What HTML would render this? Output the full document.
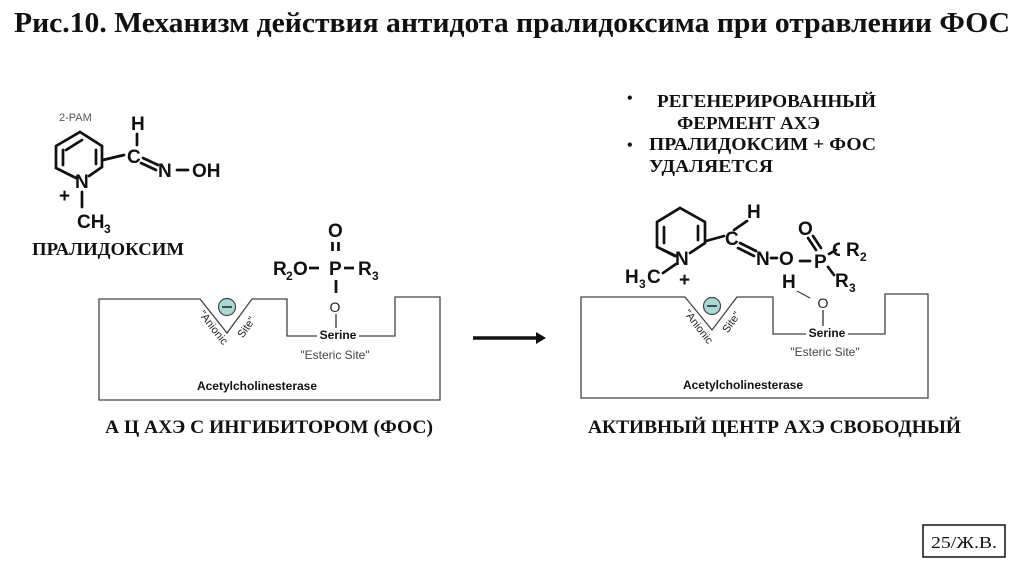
<!DOCTYPE html>
<html><head><meta charset="utf-8"><style>
html,body{margin:0;padding:0;background:#fff;}
svg{display:block;}
.ser{font-family:"Liberation Serif","Noto Serif CJK SC",serif;font-weight:bold;fill:#111;}
.ch{font-family:"Liberation Sans",sans-serif;font-weight:bold;fill:#111;font-size:19px;}
.sub{font-family:"Liberation Sans",sans-serif;font-weight:bold;fill:#111;font-size:12px;}
.sm{font-family:"Liberation Sans",sans-serif;fill:#222;}
</style></head><body>
<svg width="1024" height="574" viewBox="0 0 1024 574" xmlns="http://www.w3.org/2000/svg">
<rect width="1024" height="574" fill="#fff"/>
<!-- Title -->
<text class="ser" x="14" y="32" font-size="29" textLength="996" lengthAdjust="spacingAndGlyphs">Рис.10. Механизм действия антидота пралидоксима при отравлении ФОС</text>

<!-- LEFT MOLECULE -->
<text class="sm" x="59" y="121" font-size="11" style="fill:#555">2-PAM</text>
<g stroke="#111" stroke-width="2.7" fill="none" stroke-linecap="round">
  <polyline points="76,178 56,168 56,146 80,132 102,146 102,167 89,176"/>
  <line x1="63" y1="150" x2="63" y2="165"/>
  <line x1="96" y1="150" x2="96" y2="164"/>
  <line x1="82" y1="140" x2="66" y2="150"/>
  <line x1="103" y1="160" x2="124" y2="155"/>
  <line x1="137" y1="134" x2="137" y2="145"/>
  <line x1="143" y1="158" x2="158" y2="165"/>
  <line x1="141" y1="163" x2="156" y2="170"/>
  <line x1="177" y1="170" x2="188" y2="170"/>
  <line x1="82" y1="192" x2="82" y2="207"/>
</g>
<text class="ch" x="131" y="130">H</text>
<text class="ch" x="127" y="163">C</text>
<text class="ch" x="158" y="177">N</text>
<text class="ch" x="192" y="177">OH</text>
<text class="ch" x="75" y="188">N</text>
<text class="ch" x="59" y="202" font-size="21">+</text>
<text class="ch" x="77" y="228">CH</text>
<text class="sub" x="104" y="233">3</text>
<text class="ser" x="32" y="255" font-size="18" textLength="152" lengthAdjust="spacingAndGlyphs">ПРАЛИДОКСИМ</text>

<!-- LEFT PHOSPHATE -->
<g stroke="#111" stroke-width="2.7" fill="none">
  <line x1="332.5" y1="242" x2="332.5" y2="251"/>
  <line x1="338.5" y1="242" x2="338.5" y2="251"/>
  <line x1="309" y1="268" x2="319" y2="268"/>
  <line x1="344" y1="268" x2="354" y2="268"/>
  <line x1="336" y1="280" x2="336" y2="293"/>
</g>
<text class="ch" x="328" y="237">O</text>
<text class="ch" x="273" y="275">R</text>
<text class="sub" x="286" y="280">2</text>
<text class="ch" x="293" y="275">O</text>
<text class="ch" x="329" y="275">P</text>
<text class="ch" x="358" y="275">R</text>
<text class="sub" x="372" y="280">3</text>
<text class="sm" x="335" y="312" font-size="14" text-anchor="middle">O</text>
<line x1="336" y1="314" x2="336" y2="328" stroke="#222" stroke-width="1.2"/>

<!-- LEFT ENZYME -->
<polygon points="99,299 200,299 227,333 252,299 287,299 287,336 395,336 395,297 440,297 440,400 99,400" fill="none" stroke="#444" stroke-width="1.3"/>
<circle cx="227" cy="307" r="8.5" fill="#a9d8d8" stroke="#444" stroke-width="1.2"/>
<line x1="222" y1="307" x2="232" y2="307" stroke="#222" stroke-width="1.5"/>
<text class="sm" x="213" y="331" font-size="11" text-anchor="middle" transform="rotate(52 213 328)">"Anionic</text>
<text class="sm" x="246" y="331" font-size="11" text-anchor="middle" transform="rotate(-55 246 327)">Site"</text>
<rect x="317" y="328" width="42" height="13" fill="#fff"/>
<text class="sm" x="338" y="339" font-size="12" font-weight="bold" text-anchor="middle" style="fill:#111">Serine</text>
<text class="sm" x="335" y="359" font-size="12" text-anchor="middle" style="fill:#444">"Esteric Site"</text>
<text class="sm" x="257" y="390" font-size="12" font-weight="bold" text-anchor="middle" style="fill:#111">Acetylcholinesterase</text>

<text class="ser" x="105" y="433" font-size="19" textLength="328" lengthAdjust="spacingAndGlyphs">А Ц  АХЭ С ИНГИБИТОРОМ (ФОС)</text>

<!-- ARROW -->
<line x1="473" y1="338" x2="538" y2="338" stroke="#111" stroke-width="3.5"/>
<polygon points="536,332 546,338 536,344" fill="#111"/>

<!-- BULLETS -->
<text class="ser" x="627" y="103" font-size="16">•</text>
<text class="ser" x="657" y="107" font-size="18" textLength="219" lengthAdjust="spacingAndGlyphs">РЕГЕНЕРИРОВАННЫЙ</text>
<text class="ser" x="677" y="129" font-size="18" textLength="143" lengthAdjust="spacingAndGlyphs">ФЕРМЕНТ АХЭ</text>
<text class="ser" x="627" y="150" font-size="16">•</text>
<text class="ser" x="649" y="150" font-size="18" textLength="227" lengthAdjust="spacingAndGlyphs">ПРАЛИДОКСИМ + ФОС</text>
<text class="ser" x="649" y="172" font-size="18" textLength="124" lengthAdjust="spacingAndGlyphs">УДАЛЯЕТСЯ</text>

<!-- RIGHT MOLECULE -->
<g stroke="#111" stroke-width="2.7" fill="none" stroke-linecap="round">
  <polyline points="676,256 657,247 657,222 680,208 705,222 705,243 690,253"/>
  <line x1="664" y1="227" x2="664" y2="243"/>
  <line x1="698" y1="226" x2="698" y2="240"/>
  <line x1="663" y1="250" x2="675" y2="256"/>
  <line x1="663" y1="273" x2="676" y2="264"/>
  <line x1="706" y1="241" x2="724" y2="236"/>
  <line x1="734" y1="230" x2="747" y2="221"/>
  <line x1="740" y1="243" x2="756" y2="251"/>
  <line x1="738" y1="248" x2="754" y2="256"/>
  <line x1="771" y1="258" x2="777" y2="258"/>
  <line x1="800" y1="261" x2="810" y2="261"/>
  <line x1="808" y1="238" x2="816" y2="250"/>
  <line x1="813" y1="236" x2="821" y2="248"/>
  <line x1="829" y1="254" x2="836" y2="250"/>
  <line x1="828" y1="267" x2="834" y2="275"/>
</g>
<text class="ch" x="675" y="265">N</text>
<text class="ch" x="625" y="283">H</text>
<text class="sub" x="639" y="288">3</text>
<text class="ch" x="647" y="283">C</text>
<text class="ch" x="679" y="286" font-size="21">+</text>
<text class="ch" x="725" y="245">C</text>
<text class="ch" x="747" y="218">H</text>
<text class="ch" x="756" y="265">N</text>
<text class="ch" x="779" y="265">O</text>
<text class="ch" x="814" y="268">P</text>
<text class="ch" x="798" y="235">O</text>
<text class="ch" x="832" y="256">O</text>
<rect x="840" y="240" width="8" height="18" fill="#fff"/>
<text class="ch" x="846" y="256">R</text>
<text class="sub" x="860" y="261">2</text>
<text class="ch" x="835" y="287">R</text>
<text class="sub" x="849" y="292">3</text>
<text class="ch" x="782" y="288">H</text>
<line x1="797" y1="291" x2="810" y2="298" stroke="#333" stroke-width="1"/>

<!-- RIGHT ENZYME -->
<polygon points="581,297 685,297 712,330 737,297 773,297 773,334 885,334 885,294 928,294 928,398 581,398" fill="none" stroke="#444" stroke-width="1.3"/>
<circle cx="712" cy="306" r="8.5" fill="#a9d8d8" stroke="#444" stroke-width="1.2"/>
<line x1="707" y1="306" x2="717" y2="306" stroke="#222" stroke-width="1.5"/>
<text class="sm" x="698" y="330" font-size="11" text-anchor="middle" transform="rotate(52 698 327)">"Anionic</text>
<text class="sm" x="731" y="326" font-size="11" text-anchor="middle" transform="rotate(-55 731 322)">Site"</text>
<text class="sm" x="823" y="308" font-size="14" text-anchor="middle">O</text>
<line x1="823" y1="310" x2="823" y2="326" stroke="#222" stroke-width="1.2"/>
<rect x="806" y="326" width="42" height="13" fill="#fff"/>
<text class="sm" x="827" y="337" font-size="12" font-weight="bold" text-anchor="middle" style="fill:#111">Serine</text>
<text class="sm" x="825" y="356" font-size="12" text-anchor="middle" style="fill:#444">"Esteric Site"</text>
<text class="sm" x="743" y="389" font-size="12" font-weight="bold" text-anchor="middle" style="fill:#111">Acetylcholinesterase</text>

<text class="ser" x="588" y="433" font-size="19" textLength="373" lengthAdjust="spacingAndGlyphs">АКТИВНЫЙ ЦЕНТР АХЭ СВОБОДНЫЙ</text>

<!-- footer box -->
<rect x="923" y="525" width="82" height="32" fill="none" stroke="#111" stroke-width="1.5"/>
<text x="931" y="548" font-family="Liberation Serif, serif" font-size="17" fill="#111" textLength="66" lengthAdjust="spacingAndGlyphs">25/Ж.В.</text>
</svg>
</body></html>
